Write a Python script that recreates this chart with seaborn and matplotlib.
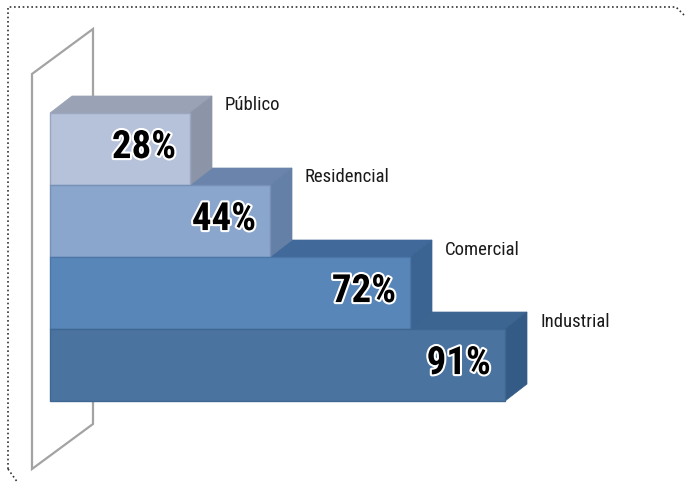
import numpy as np
import pandas as pd
import matplotlib
matplotlib.use('Agg')
import matplotlib.pyplot as plt
import matplotlib.patheffects as pe
from matplotlib.patches import Polygon
from matplotlib.lines import Line2D
import seaborn as sns

# dados
categorias = ['Público', 'Residencial', 'Comercial', 'Industrial']
valores = [28, 44, 72, 91]
etiquetas = ['28%', '44%', '72%', '91%']

# cores das faces (frente, topo, lado)
cor_frente = ['#b6c2da', '#8ba6cd', '#5886b9', '#4a73a0']
cor_topo = ['#9aa3b5', '#6b84ab', '#41699a', '#3d6591']
cor_lado = ['#8c95a8', '#6480a6', '#3c6492', '#345b85']
cor_borda = ['#9aa6bf', '#7690b8', '#4a77a8', '#3f6791']

sns.set_theme(style='white')
plt.rcParams['font.family'] = ['Roboto Condensed', 'DejaVu Sans']

fig = plt.figure(figsize=(6.86, 4.89), dpi=100)
ax = fig.add_axes([0, 0, 1, 1])

df = pd.DataFrame({'cat': categorias, 'val': valores})
sns.barplot(data=df, x='val', y='cat', hue='cat', palette=cor_frente,
            width=1.0, orient='h', ax=ax, legend=False, saturation=1,
            linewidth=0, zorder=3)
for barra, c in zip(ax.patches, cor_borda):
    barra.set_edgecolor(c)
    barra.set_linewidth(1.0)

ax.set_xlim(-10, 127.2)
ax.set_ylim(4.708, -2.083)
ax.axis('off')

# profundidade 3d
dx = 4.4
dy = 0.236

# parede lateral
parede = Polygon([(-3.6, -1.042), (8.6, -1.667), (8.6, 3.819), (-3.6, 4.444)],
                 closed=True, facecolor='white', edgecolor='#a3a3a3', lw=1.6, zorder=1)
ax.add_patch(parede)

# topo e lado, de baixo para cima
for i in range(len(valores) - 1, -1, -1):
    v = valores[i]
    t = i - 0.5
    b = i + 0.5
    topo = Polygon([(0, t), (v, t), (v + dx, t - dy), (dx, t - dy)], closed=True,
                   facecolor=cor_topo[i], edgecolor=cor_topo[i], lw=0.5, zorder=2)
    lado = Polygon([(v, t), (v + dx, t - dy), (v + dx, b - dy), (v, b)], closed=True,
                   facecolor=cor_lado[i], edgecolor=cor_lado[i], lw=0.5, zorder=2)
    ax.add_patch(topo)
    ax.add_patch(lado)
    # etiqueta da categoria
    ax.text(v + dx + 2.6, t - dy / 2, categorias[i], fontsize=13.5, color='#1a1a1a',
            ha='left', va='center', zorder=5)
    # percentagem
    ax.text(v - 2.8, i - 0.02, etiquetas[i], fontsize=28, fontweight='bold',
            color='black', ha='right', va='center', zorder=6,
            path_effects=[pe.withStroke(linewidth=3, foreground='white')])

# moldura pontilhada (topo e esquerda)
w, h = 686, 489
estilo = dict(transform=fig.transFigure, color='#333333', lw=1.2, linestyle=(0, (1, 1.6)))
fig.add_artist(Line2D([8 / w, 8 / w, 676 / w, 684 / w],
                      [1 - 470 / h, 1 - 8 / h, 1 - 8 / h, 1 - 16 / h], **estilo))
fig.add_artist(Line2D([8 / w, 18 / w], [1 - 470 / h, 1 - 484 / h], **estilo))

fig.savefig('out.png', dpi=100)
